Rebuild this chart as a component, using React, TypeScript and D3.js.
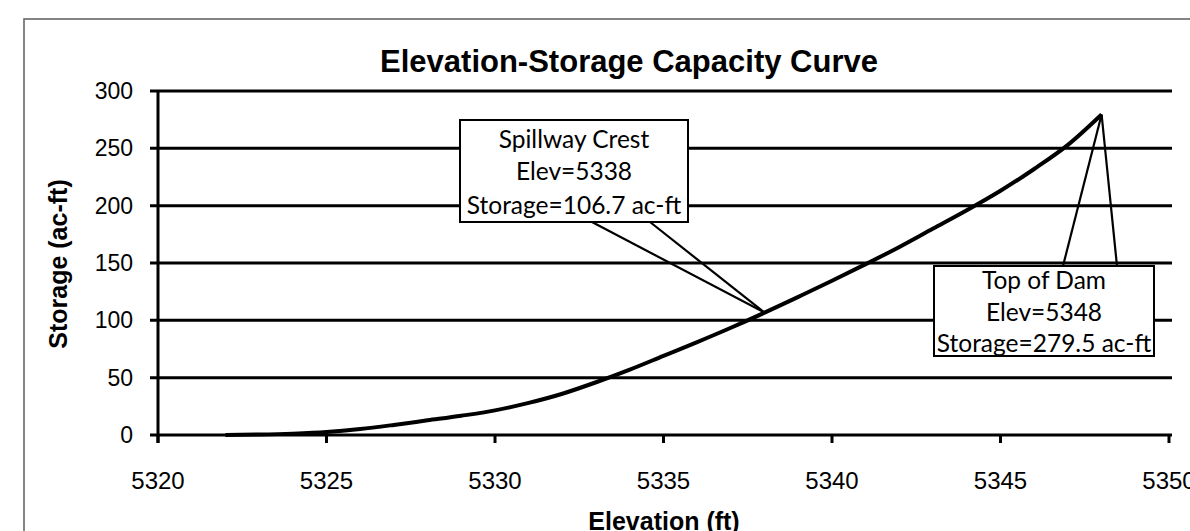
import { scaleLinear, line, curveMonotoneX } from "d3";

// elevation (ft) vs storage (ac-ft)
const elevations = [5322, 5323, 5324, 5325, 5326, 5327, 5328, 5329, 5330, 5331, 5332, 5333, 5334, 5335, 5336, 5337, 5338, 5339, 5340, 5341, 5342, 5343, 5344, 5345, 5346, 5347, 5348];
const storages = [0, 0.4, 1.2, 2.6, 5.2, 8.8, 12.8, 16.8, 21.5, 28, 36, 46, 57, 69, 81, 93.5, 106.7, 120.5, 134.5, 149, 164, 180, 196, 213, 232, 253, 279.5];

const xTicks = [5320, 5325, 5330, 5335, 5340, 5345, 5350];
const yTicks = [0, 50, 100, 150, 200, 250, 300];

const calloutLabels = [
    ["Spillway Crest", "Elev=5338", "Storage=106.7 ac-ft"],
    ["Top of Dam", "Elev=5348", "Storage=279.5 ac-ft"],
];
const calloutPoints = [
    { elev: 5338, storage: 106.7 },
    { elev: 5348, storage: 279.5 },
];

const W = 1190;
const H = 531;

// callout box layout: [x0, y0, x1, y1], pointer base x's, base y, text baselines
const calloutBoxes = [
    { box: [460, 120, 688, 222], base: [592, 650], baseY: 222, lines: [148, 180, 214] },
    { box: [934, 266, 1154, 356], base: [1063, 1117], baseY: 266, lines: [289, 321, 352] },
];

export default function App() {
    const x = scaleLinear().domain([5320, 5350]).range([158, 1169]);
    const y = scaleLinear().domain([0, 300]).range([435, 91]);

    const pts = elevations.map((e, i) => [e, storages[i]] as [number, number]);
    const path = line<[number, number]>()
        .x((d) => x(d[0]))
        .y((d) => y(d[1]))
        .curve(curveMonotoneX)(pts);

    const gridRight = 1172;

    return (
        <svg
            width={W}
            height={H}
            style={{ position: "absolute", left: 0, top: 0, background: "#fff" }}
            fontFamily="'Liberation Sans', Arial, sans-serif"
        >
            {/* outer frame */}
            <rect x={24} y={19} width={1200} height={600} fill="none" stroke="#666" strokeWidth={1.6} />

            {/* title */}
            <text x={629} y={72} textAnchor="middle" fontSize={31} fontWeight="bold">
                Elevation-Storage Capacity Curve
            </text>

            {/* gridlines + y ticks */}
            {yTicks.map((t) => (
                <g key={t}>
                    <line x1={150} x2={gridRight} y1={y(t)} y2={y(t)} stroke="#000" strokeWidth={3} />
                    <text x={133} y={y(t) + 8} textAnchor="end" fontSize={23}>
                        {t}
                    </text>
                </g>
            ))}

            {/* y axis line */}
            <line x1={x(5320)} x2={x(5320)} y1={y(300) - 1} y2={y(0) + 8} stroke="#000" strokeWidth={3} />

            {/* x ticks */}
            {xTicks.map((t) => (
                <g key={t}>
                    <line x1={x(t)} x2={x(t)} y1={y(0)} y2={y(0) + 8} stroke="#000" strokeWidth={3} />
                    <text x={x(t)} y={489} textAnchor="middle" fontSize={24}>
                        {t}
                    </text>
                </g>
            ))}

            {/* axis titles */}
            <text x={664} y={530} textAnchor="middle" fontSize={25} fontWeight="bold">
                Elevation (ft)
            </text>
            <text
                transform={`translate(67,264) rotate(-90)`}
                textAnchor="middle"
                fontSize={25}
                fontWeight="bold"
            >
                Storage (ac-ft)
            </text>

            {/* curve */}
            <path d={path ?? ""} fill="none" stroke="#000" strokeWidth={4} strokeLinejoin="round" />

            {/* callouts */}
            {calloutBoxes.map((c, i) => {
                const tipX = x(calloutPoints[i].elev);
                const tipY = y(calloutPoints[i].storage);
                const [x0, y0, x1, y1] = c.box;
                const cx = (x0 + x1) / 2;
                return (
                    <g key={i}>
                        <rect x={x0} y={y0} width={x1 - x0} height={y1 - y0} fill="#fff" stroke="#000" strokeWidth={2} />
                        <line x1={c.base[0]} y1={c.baseY} x2={tipX} y2={tipY} stroke="#000" strokeWidth={2.2} />
                        <line x1={c.base[1]} y1={c.baseY} x2={tipX} y2={tipY} stroke="#000" strokeWidth={2.2} />
                        {calloutLabels[i].map((s, j) => (
                            <text
                                key={j}
                                x={cx}
                                y={c.lines[j]}
                                textAnchor="middle"
                                fontSize={24.5}
                                fontFamily="Lato, 'Open Sans', sans-serif"
                            >
                                {s}
                            </text>
                        ))}
                    </g>
                );
            })}
        </svg>
    );
}
